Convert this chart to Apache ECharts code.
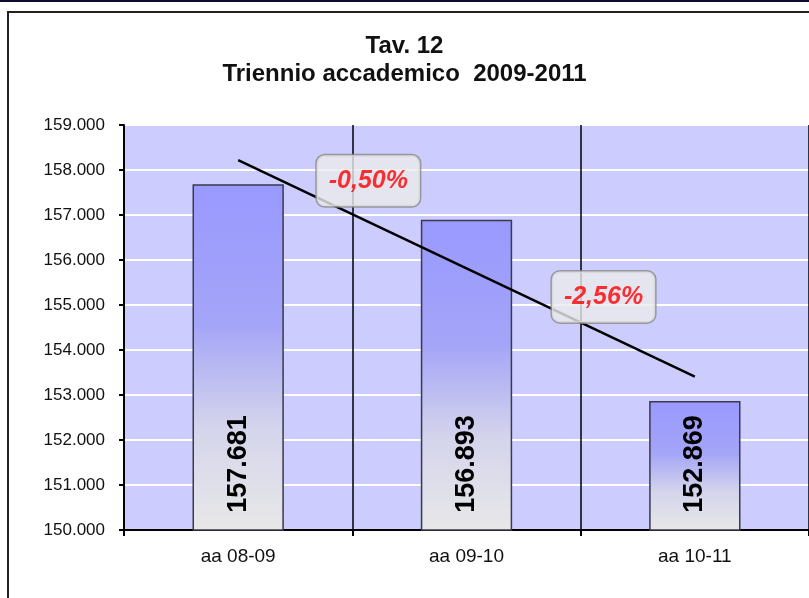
<!DOCTYPE html>
<html>
<head>
<meta charset="utf-8">
<script src="https://cdn.jsdelivr.net/npm/echarts@6/dist/echarts.min.js"></script>
<style>
  html, body { margin: 0; padding: 0; background: #fff; }
  #chart { width: 809px; height: 598px; }
</style>
</head>
<body>
<div id="chart"></div>
<script>
const categories = ['aa 08-09', 'aa 09-10', 'aa 10-11']
const students = [157681, 156893, 152869]
// linear trend line, read at the category centres
const trend = [158220, 155814, 153408]
// callout boxes: [x position in category units, y value, text]
const changeLabels = [
  [0.57, 157760, '-0,50%'],
  [1.6, 155180, '-2,56%']
]

const fmt = v => v.toLocaleString('it-IT').replace(/,/g, '.')

const chart = echarts.init(document.getElementById('chart'))

const option = {
  animation: false,
  textStyle: { fontFamily: 'Liberation Sans, Arial, sans-serif' },
  title: {
    text: 'Tav. 12\nTriennio accademico  2009-2011',
    left: 'center',
    top: 27,
    textStyle: { fontSize: 24, fontWeight: 'bold', color: '#111', lineHeight: 28 }
  },
  graphic: [
    { type: 'rect', shape: { x: 0, y: 0, width: 809, height: 2 }, style: { fill: '#0c0c35' } },
    { type: 'rect', shape: { x: 8, y: 12, width: 900, height: 700 }, style: { fill: 'none', stroke: '#222', lineWidth: 2 } }
  ],
  grid: { left: 124, top: 125, width: 687, height: 405, backgroundColor: '#ccccff', show: true, borderWidth: 0 },
  xAxis: [
    {
      type: 'category',
      data: categories,
      axisLine: { onZero: false, lineStyle: { color: '#000', width: 2 } },
      axisTick: { show: true, length: 6, lineStyle: { color: '#000', width: 2 } },
      axisLabel: { fontSize: 19, color: '#111', margin: 17 },
      splitLine: { show: true, lineStyle: { color: '#000', width: 1.5 } }
    },
    { type: 'value', min: -0.5, max: 2.5, show: false, axisLine: { onZero: false } }
  ],
  yAxis: {
    type: 'value',
    min: 150000,
    max: 159000,
    interval: 1000,
    axisLine: { show: true, onZero: false, lineStyle: { color: '#000', width: 2 } },
    axisTick: { show: true, length: 5, lineStyle: { color: '#000', width: 2 } },
    axisLabel: { fontSize: 17, color: '#111', margin: 19, formatter: fmt },
    splitLine: { lineStyle: { color: '#fff', width: 2 } }
  },
  series: [
    {
      type: 'bar',
      data: students,
      barWidth: '40%',
      itemStyle: {
        borderColor: '#3a3a4a',
        borderWidth: 1.5,
        color: new echarts.graphic.LinearGradient(0, 0, 0, 1, [
          { offset: 0, color: '#9999ff' },
          { offset: 0.4, color: '#a4a4f8' },
          { offset: 0.7, color: '#d4d4ec' },
          { offset: 1, color: '#e8e8e8' }
        ])
      },
      label: {
        show: true,
        position: 'insideBottom',
        rotate: 90,
        align: 'left',
        verticalAlign: 'middle',
        distance: 18,
        formatter: p => fmt(p.value),
        fontSize: 27,
        fontWeight: 'bold',
        color: '#000'
      }
    },
    {
      type: 'line',
      data: trend,
      symbol: 'none',
      lineStyle: { color: '#000', width: 2.5 },
      z: 3
    },
    {
      type: 'scatter',
      xAxisIndex: 1,
      data: changeLabels.map(d => ({ value: [d[0], d[1]], name: d[2] })),
      symbolSize: 1,
      itemStyle: { color: 'rgba(0,0,0,0)' },
      z: 5,
      label: {
        show: true,
        position: 'inside',
        formatter: p => p.name,
        fontSize: 25,
        fontWeight: 'bold',
        fontStyle: 'italic',
        color: '#ff0000',
        backgroundColor: '#ebebeb',
        borderColor: '#8a8a8a',
        borderWidth: 1.5,
        borderRadius: 8,
        padding: [12, 12],
        lineHeight: 27
      }
    }
  ]
}

chart.setOption(option)
</script>
</body>
</html>
